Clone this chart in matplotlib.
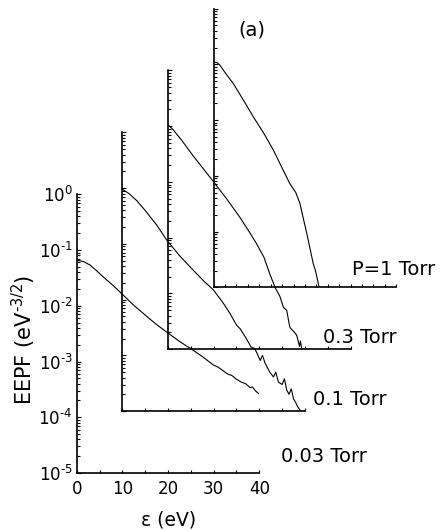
import numpy as np
import matplotlib.pyplot as plt
from matplotlib.ticker import LogLocator, MultipleLocator, NullFormatter

plt.rcParams['font.family'] = ['DejaVu Sans']
plt.rcParams['mathtext.default'] = 'regular'

# energy (eV) and EEPF (eV^-3/2), each curve in its own offset frame
e_003 = [0, 1.5, 2.9, 4.3, 5.8, 8.0, 10.1, 12.5, 15.3, 17.5, 20.1, 22.5, 24.8, 27.5,
         29.9, 31.0, 32.0, 33.0, 34.0, 35.0, 36.0, 37.0, 38.0, 38.5, 39.2, 40.0]
f_003 = [0.066, 0.062, 0.054, 0.043, 0.033, 0.023, 0.0158, 0.0102, 0.0065, 0.0046,
         0.0032, 0.0023, 0.00174, 0.00123, 8.7e-4, 7.9e-4, 6.9e-4, 6.0e-4, 5.6e-4,
         4.8e-4, 4.3e-4, 4.0e-4, 3.4e-4, 3.5e-4, 2.95e-4, 2.6e-4]

e_01 = [0, 1.5, 3.1, 5.0, 7.5, 9.8, 12.5, 15.5, 18.0, 19.9, 22.0, 23.6, 25.0, 25.8,
        27.0, 28.2, 29.0, 29.6, 30.2, 30.7, 31.3, 32.3, 33.1, 33.6, 34.2, 35.0, 35.5,
        36.0, 36.5, 37.0, 37.5, 38.0, 38.4, 38.9]
f_01 = [0.0955, 0.0794, 0.0603, 0.0398, 0.0219, 0.0115, 0.00617, 0.00339, 0.00209,
        0.00151, 8.9e-4, 5.6e-4, 3.5e-4, 3.0e-4, 2.1e-4, 1.41e-4, 1.32e-4, 1.05e-4,
        8.1e-5, 1.0e-4, 7.1e-5, 5.0e-5, 4.1e-5, 5.0e-5, 3.3e-5, 3.0e-5, 3.8e-5,
        2.4e-5, 2.0e-5, 2.5e-5, 1.66e-5, 1.41e-5, 1.2e-5, 1.05e-5]

e_03 = [0, 1.0, 3.0, 5.5, 8.0, 10.1, 13.0, 15.8, 18.0, 19.4, 21.0, 22.3, 23.5, 24.5,
        25.3, 26.0, 26.7, 27.5, 28.2, 28.8, 29.0, 29.3]
f_03 = [0.106, 0.089, 0.056, 0.0295, 0.0162, 0.0098, 0.0048, 0.00229, 0.0012, 7.8e-4,
        4.5e-4, 2.24e-4, 1.26e-4, 8.9e-5, 5.6e-5, 5.0e-5, 2.45e-5, 2.1e-5, 1.78e-5,
        1.12e-5, 1.41e-5, 1.02e-5]

e_1 = [0, 0.8, 1.4, 2.5, 4.3, 6.5, 8.7, 11.0, 13.1, 15.0, 16.7, 18.0, 18.9, 19.6,
       20.4, 21.1, 21.8, 22.3, 22.6, 23.1]
f_1 = [0.110, 0.107, 0.096, 0.071, 0.0453, 0.0229, 0.0114, 0.00575, 0.00288, 0.00138,
       7.2e-4, 5.0e-4, 3.2e-4, 1.78e-4, 9.3e-5, 5.0e-5, 2.7e-5, 2.0e-5, 1.55e-5, 1.0e-5]

labels = ['0.03 Torr', '0.1 Torr', '0.3 Torr', 'P=1 Torr']

# y tick labels use a plain hyphen like the original
ytick_vals = [1e-5, 1e-4, 1e-3, 1e-2, 1e-1, 1e0]
ytick_labels = ['10$^{\u20105}$', '10$^{\u20104}$', '10$^{\u20103}$',
                '10$^{\u20102}$', '10$^{\u20101}$', '10$^{0}$']

W, H = 442, 531
fig = plt.figure(figsize=(W / 100, H / 100), dpi=100)

# frame geometry in pixels
x0, y0 = 76.7, 473.0
aw, ah = 182.6, 278.7
dx, dy = 45.65, 61.9

curves = [(e_003, f_003), (e_01, f_01), (e_03, f_03), (e_1, f_1)]
for k, (e, f) in enumerate(curves):
    left = x0 + k * dx
    base = y0 - k * dy
    ax = fig.add_axes([left / W, 1 - base / H, aw / W, ah / H])
    ax.patch.set_visible(False)
    ax.plot(e, f, color='black', lw=0.8)
    ax.set_yscale('log')
    ax.set_xlim(0, 40)
    ax.set_ylim(1e-5, 1)
    for s in ['top', 'right']:
        ax.spines[s].set_visible(False)
    for s in ['left', 'bottom']:
        ax.spines[s].set_linewidth(1.2)
    ax.xaxis.set_major_locator(MultipleLocator(10))
    ax.xaxis.set_minor_locator(MultipleLocator(2.5 if k == 3 else 5))
    ax.set_yticks(ytick_vals, ytick_labels)
    ax.yaxis.set_minor_locator(LogLocator(base=10, subs=np.arange(2, 10), numticks=10))
    ax.yaxis.set_minor_formatter(NullFormatter())
    ax.set_ylim(1e-5, 1)
    ax.tick_params(which='both', direction='in', width=0.8, labelsize=12)
    ax.tick_params(axis='y', which='major', length=3.2, pad=3)
    ax.tick_params(axis='y', which='minor', length=1.8)
    ax.tick_params(axis='x', which='both', length=2.2, pad=5)
    if k > 0:
        ax.tick_params(labelleft=False, labelbottom=False)

# curve labels (left edge, baseline) in pixels
lab_x = [281, 313, 323, 352]
lab_y = [462, 405, 343, 275]
for t, lx, ly in zip(labels, lab_x, lab_y):
    fig.text(lx / W, 1 - ly / H, t, fontsize=14, ha='left', va='baseline')

fig.text(238 / W, 1 - 35 / H, '(a)', fontsize=14, ha='left', va='baseline')
fig.text(169 / W, 1 - 525 / H, 'ε (eV)', fontsize=13.5, ha='center', va='baseline')
fig.text(24 / W, 1 - 340 / H, 'EEPF (eV$^{\u20103/2}$)', fontsize=15,
         ha='center', va='center', rotation=90)

plt.savefig('out.png', dpi=100)
